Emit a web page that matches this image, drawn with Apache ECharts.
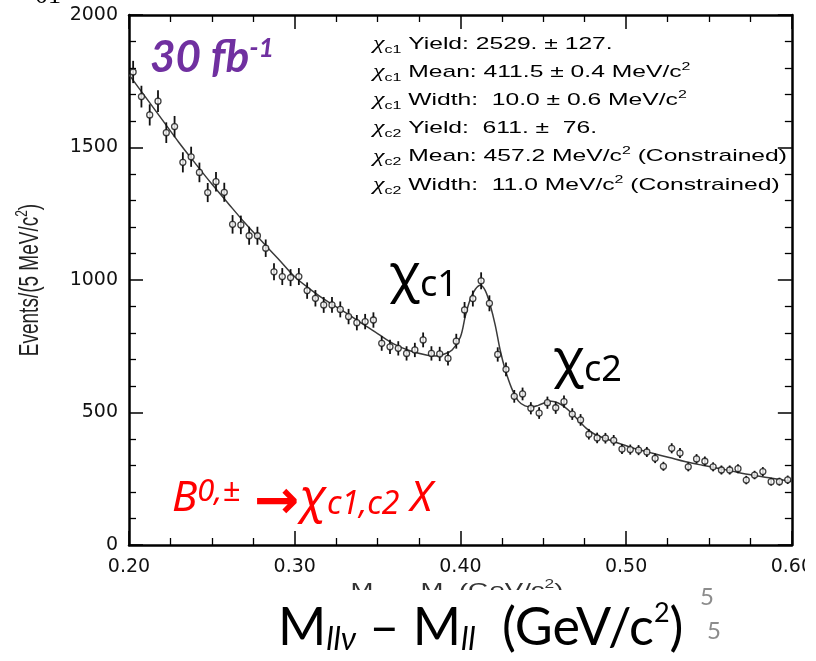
<!DOCTYPE html>
<html>
<head>
<meta charset="utf-8">
<script src="https://cdn.jsdelivr.net/npm/echarts@6/dist/echarts.min.js"></script>
<style>
html, body { margin: 0; padding: 0; background: #fff; }
#chart { width: 816px; height: 661px; }
</style>
</head>
<body>
<div id="chart"></div>
<script>
// Histogram of M(llν) − M(ll): 80 bins of 5 MeV/c² between 0.20 and 0.60 GeV/c²
const binStart = 0.2;
const binWidth = 0.005;

const counts = [
  1785, 1692, 1623, 1675, 1556, 1579, 1444, 1465, 1406, 1330,
  1371, 1331, 1210, 1208, 1167, 1167, 1120, 1031, 1013, 1009,
  1013,  960,  931,  906,  906,  889,  862,  839,  843,  849,
   761,  748,  742,  723,  736,  774,  723,  721,  704,  769,
   887,  930,  997,  912,  719,  663,  561,  570,  516,  498,
   537,  518,  541,  494,  472,  418,  404,  403,  395,  362,
   360,  358,  351,  327,  297,  365,  347,  295,  325,  316,
   295,  283,  283,  288,  245,  264,  277,  239,  239,  246
];

const countErrors = [
  42, 41, 40, 41, 39, 40, 38, 38, 37, 36,
  37, 36, 35, 35, 34, 34, 33, 32, 32, 32,
  32, 31, 31, 30, 30, 30, 29, 29, 29, 29,
  28, 27, 27, 27, 27, 28, 27, 27, 27, 28,
  30, 30, 32, 30, 27, 26, 24, 24, 23, 22,
  23, 23, 23, 22, 22, 20, 20, 20, 20, 19,
  19, 19, 19, 18, 17, 19, 19, 17, 18, 18,
  17, 17, 17, 17, 16, 16, 17, 15, 15, 16
];

// Fitted curve: smooth background plus the chi_c1 and chi_c2 peaks
const fitMass = [
  0.200, 0.210, 0.220, 0.230, 0.240, 0.250, 0.260, 0.270, 0.280, 0.290,
  0.300, 0.310, 0.320, 0.330, 0.340, 0.350, 0.360, 0.370, 0.380, 0.385,
  0.390, 0.395, 0.400, 0.403, 0.406, 0.409, 0.412, 0.415, 0.418, 0.421,
  0.424, 0.427, 0.431, 0.435, 0.439, 0.443, 0.447, 0.451, 0.455, 0.459,
  0.463, 0.467, 0.471, 0.476, 0.481, 0.487, 0.495, 0.505, 0.516, 0.526,
  0.536, 0.546, 0.556, 0.566, 0.576, 0.588, 0.600
];
const fitValues = [
  1775, 1690, 1605, 1520, 1440, 1362, 1288, 1215, 1147, 1080,
  1012,  962,  918,  880,  838,  798,  758,  732,  716,  713,
   720,  736,  785,  865,  928,  965,  980,  960,  905,  830,
   735,  662,  590,  543,  525,  521,  527,  537,  542,  536,
   520,  498,  472,  440,  418,  403,  385,  364,  346,  330,
   314,  301,  289,  276,  264,  252,  240
];

const xTickLabels = ['0.20', '0.30', '0.40', '0.50', '0.60'];
const yTickLabels = ['0', '500', '1000', '1500', '2000'];

const fitSummary = [
  '{chi|χ}{sub|c1} Yield: 2529. ± 127.',
  '{chi|χ}{sub|c1} Mean: 411.5 ± 0.4 MeV/c{sup|2}',
  '{chi|χ}{sub|c1} Width:  10.0 ± 0.6 MeV/c{sup|2}',
  '{chi|χ}{sub|c2} Yield:  611. ±  76.',
  '{chi|χ}{sub|c2} Mean: 457.2 MeV/c{sup|2} (Constrained)',
  '{chi|χ}{sub|c2} Width:  11.0 MeV/c{sup|2} (Constrained)'
];

const binCentres = counts.map((_, i) => +(binStart + binWidth * (i + 0.5)).toFixed(4));
const points = binCentres.map((m, i) => [m, counts[i]]);
const errorBars = binCentres.map((m, i) => [m, counts[i] - countErrors[i], counts[i] + countErrors[i]]);
const fitLine = fitMass.map((m, i) => [m, fitValues[i]]);

const HELV = '"Liberation Sans", Arial, sans-serif';
const SLIDE = 'Lato, "Noto Sans", sans-serif';
const GREEK = '"Noto Sans", sans-serif';

const frameLine = { show: true, onZero: false, lineStyle: { color: '#000', width: 2.5 } };
const majorTick = { show: true, inside: true, length: 14, lineStyle: { color: '#000', width: 1.5 } };

function xAxisDef(position, showLabel) {
  return {
    type: 'value', position, min: 0.2, max: 0.6, interval: 0.1,
    axisLine: frameLine, axisTick: majorTick,
    minorTick: { show: true, splitNumber: 4, length: 7, lineStyle: { color: '#000', width: 1.3 } },
    splitLine: { show: false }, minorSplitLine: { show: false },
    axisLabel: {
      show: showLabel, margin: 13, color: '#111', fontFamily: '"DejaVu Sans", sans-serif', fontSize: 19,
      formatter: v => xTickLabels[Math.round((v - 0.2) / 0.1)]
    }
  };
}
function yAxisDef(position, showLabel) {
  return {
    type: 'value', position, min: 0, max: 2000, interval: 500,
    axisLine: frameLine, axisTick: majorTick,
    minorTick: { show: true, splitNumber: 5, length: 7, lineStyle: { color: '#000', width: 1.3 } },
    splitLine: { show: false }, minorSplitLine: { show: false },
    axisLabel: {
      show: showLabel, margin: 11, color: '#111', fontFamily: '"DejaVu Sans", sans-serif', fontSize: 19,
      formatter: v => yTickLabels[Math.round(v / 500)]
    }
  };
}

const summaryRich = {
  chi: { fontSize: 18, fontFamily: '"Liberation Serif", serif', fontStyle: 'italic', fill: '#000', lineHeight: 22 },
  sub: { fontSize: 11, fontFamily: HELV, fill: '#000', lineHeight: 10, verticalAlign: 'bottom' },
  sup: { fontSize: 11, fontFamily: HELV, fill: '#000', lineHeight: 12, verticalAlign: 'top' }
};

const graphics = [];

// physics-plot fit summary, horizontally stretched Helvetica
fitSummary.forEach((line, i) => {
  graphics.push({
    type: 'text', x: 373, y: 44 + i * 28.2, scaleX: 1.45, z: 100,
    style: {
      text: line, fontSize: 17, fontFamily: HELV, fill: '#000', lineHeight: 22,
      verticalAlign: 'middle', align: 'left', rich: summaryRich
    }
  });
});

// y-axis title
graphics.push({
  type: 'text', x: 31, y: 280, rotation: Math.PI / 2, scaleY: 1.43, z: 100,
  style: {
    text: '{a|Events/(5 MeV/c}{s|2}{a|)}', align: 'center', verticalAlign: 'middle',
    rich: {
      a: { fontSize: 19, fontFamily: HELV, fill: '#222', lineHeight: 24 },
      s: { fontSize: 12, fontFamily: HELV, fill: '#222', lineHeight: 12, verticalAlign: 'top' }
    }
  }
});

// original x-axis title, mostly hidden under the slide caption
graphics.push({
  type: 'text', x: 457, y: 579, scaleX: 1.45, z: 100,
  style: {
    text: '{a|M}{s|llν}{a| – M}{s|ll}{a| (GeV/c}{p|2}{a|)}', align: 'center', verticalAlign: 'top',
    rich: {
      a: { fontSize: 19, fontFamily: HELV, fill: '#333', lineHeight: 24 },
      s: { fontSize: 12, fontFamily: HELV, fontStyle: 'italic', fill: '#333', lineHeight: 10, verticalAlign: 'bottom' },
      p: { fontSize: 12, fontFamily: HELV, fill: '#333', lineHeight: 12, verticalAlign: 'top' }
    }
  }
});
graphics.push({ type: 'rect', z: 101, shape: { x: 300, y: 590, width: 330, height: 14 }, style: { fill: '#fff' } });
// right edge of the slide crops the last tick label
graphics.push({ type: 'rect', z: 101, shape: { x: 805, y: 552, width: 11, height: 36 }, style: { fill: '#fff' } });

// slide heading fragment at the top-left
graphics.push({
  type: 'text', x: 35, y: -4, z: 100,
  style: { text: '01', fontSize: 26, fontFamily: '"Liberation Serif", serif', fill: '#000', verticalAlign: 'middle' }
});

// luminosity
graphics.push({
  type: 'text', x: 150, y: 35, z: 100,
  style: {
    text: '{a|30 fb}{s|-1}', verticalAlign: 'top',
    rich: {
      a: { fontSize: 44, fontFamily: SLIDE, fontWeight: 'bold', fontStyle: 'italic', fill: '#7030A0', lineHeight: 46 },
      s: { fontSize: 27, fontFamily: SLIDE, fontWeight: 'bold', fontStyle: 'italic', fill: '#7030A0', lineHeight: 31, verticalAlign: 'top' }
    }
  }
});

// peak labels
const peakRich = {
  c: { fontSize: 52, fontFamily: GREEK, fill: '#000', lineHeight: 56 },
  s: { fontSize: 36, fontFamily: GREEK, fill: '#000', lineHeight: 12, verticalAlign: 'bottom' }
};
graphics.push({ type: 'text', x: 389, y: 248, z: 100, style: { text: '{c|χ}{s|c1}', verticalAlign: 'top', rich: peakRich } });
graphics.push({ type: 'text', x: 553, y: 333, z: 100, style: { text: '{c|χ}{s|c2}', verticalAlign: 'top', rich: peakRich } });

// decay channel
graphics.push({
  type: 'text', x: 172, y: 477, z: 100,
  style: {
    text: '{m|B}{p|0,±}{r|→}{c|χ}{b|c1,c2}{m| X}', verticalAlign: 'top',
    rich: {
      m: { fontSize: 42, fontFamily: GREEK, fontStyle: 'italic', fill: '#ff0000', lineHeight: 44 },
      p: { fontSize: 31, fontFamily: GREEK, fontStyle: 'italic', fill: '#ff0000', lineHeight: 24, verticalAlign: 'top' },
      r: { fontSize: 54, fontFamily: '"DejaVu Sans", sans-serif', fontWeight: 'bold', fill: '#ff0000', lineHeight: 36, verticalAlign: 'top', padding: [0, 0, 0, 14] },
      c: { fontSize: 48, fontFamily: GREEK, fontStyle: 'italic', fill: '#ff0000', lineHeight: 44 },
      b: { fontSize: 32, fontFamily: GREEK, fontStyle: 'italic', fill: '#ff0000', lineHeight: 11, verticalAlign: 'bottom' }
    }
  }
});

// slide caption for the x axis
graphics.push({
  type: 'text', x: 278, y: 600, z: 100,
  style: {
    text: '{m|M}{s|llν}{m| – M}{s|ll}{m|  (GeV/c}{p|2}{m|)}', verticalAlign: 'top',
    rich: {
      m: { fontSize: 52, fontFamily: SLIDE, fill: '#000', lineHeight: 56 },
      s: { fontSize: 32, fontFamily: SLIDE, fontStyle: 'italic', fill: '#000', lineHeight: 21, verticalAlign: 'bottom' },
      p: { fontSize: 27, fontFamily: SLIDE, fill: '#000', lineHeight: 36, verticalAlign: 'top' }
    }
  }
});
// slide page numbers
graphics.push({ type: 'text', x: 700, y: 597, z: 100, style: { text: '5', fontSize: 24, fontFamily: SLIDE, fill: '#8c8c8c', verticalAlign: 'middle' } });
graphics.push({ type: 'text', x: 707, y: 631, z: 100, style: { text: '5', fontSize: 24, fontFamily: SLIDE, fill: '#8c8c8c', verticalAlign: 'middle' } });

const chart = echarts.init(document.getElementById('chart'));
chart.setOption({
  animation: false,
  backgroundColor: '#fff',
  grid: { left: 129, top: 15, width: 664, height: 530 },
  xAxis: [xAxisDef('bottom', true), xAxisDef('top', false)],
  yAxis: [yAxisDef('left', true), yAxisDef('right', false)],
  series: [
    {
      type: 'line', data: fitLine, smooth: 0.35, showSymbol: false, silent: true,
      lineStyle: { color: '#3a3a3a', width: 1.5 }, z: 2
    },
    {
      type: 'custom', data: errorBars, encode: { x: 0, y: [1, 2] }, z: 3, silent: true,
      renderItem: (params, api) => {
        const lo = api.coord([api.value(0), api.value(1)]);
        const hi = api.coord([api.value(0), api.value(2)]);
        return {
          type: 'line',
          shape: { x1: lo[0], y1: lo[1], x2: hi[0], y2: hi[1] },
          style: { stroke: '#111', lineWidth: 1.8 }
        };
      }
    },
    {
      type: 'scatter', data: points, symbol: 'circle', symbolSize: 6, z: 4, silent: true,
      itemStyle: { color: '#fff', borderColor: '#111', borderWidth: 1.3 }
    }
  ],
  graphic: graphics
});
</script>
</body>
</html>
